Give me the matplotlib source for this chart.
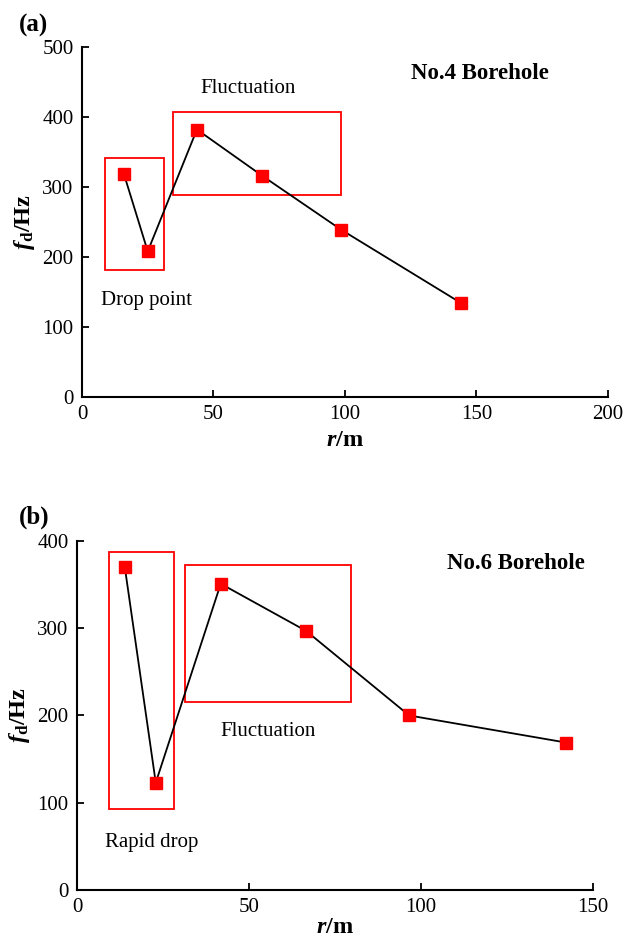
import matplotlib
matplotlib.use("Agg")
import matplotlib.pyplot as plt
from matplotlib.patches import Rectangle

plt.rcParams["font.family"] = ["Liberation Serif", "DejaVu Serif"]
plt.rcParams["mathtext.fontset"] = "custom"
plt.rcParams["mathtext.it"] = "Liberation Serif:italic:bold"
plt.rcParams["mathtext.rm"] = "Liberation Serif:bold"
plt.rcParams["mathtext.bf"] = "Liberation Serif:bold"

# (a) No.4 borehole
r4 = [15.9, 25.0, 43.7, 68.5, 98.5, 144.2]
f4 = [319, 208, 382, 316, 239, 134]
# (b) No.6 borehole
r6 = [13.9, 22.9, 41.8, 66.6, 96.6, 142.2]
f6 = [370, 123, 351, 297, 200, 169]

# annotation boxes: (x0, y0, x1, y1) in data units
boxes4 = [(8.9, 181, 31.3, 341), (34.5, 289, 98.6, 407)]
boxes6 = [(9.3, 93, 28.2, 387), (31.5, 215, 79.6, 373)]

red = "#ff0000"


def panel(ax, r, f, boxes, xmax, ymax, notes, title, title_pos, xpad):
    ax.plot(r, f, color="black", lw=1.3, marker="s", ms=8,
            mfc=red, mec=red, zorder=3)
    for x0, y0, x1, y1 in boxes:
        ax.add_patch(Rectangle((x0, y0), x1 - x0, y1 - y0, fill=False,
                               ec=red, lw=1.3, zorder=2))
    for x, y, s in notes:
        ax.text(x, y, s, ha="center", va="center", fontsize=15)
    ax.text(*title_pos, title, transform=ax.transAxes, fontsize=16.5,
            fontweight="bold", ha="center", va="center")
    ax.set_xlim(0, xmax)
    ax.set_ylim(0, ymax)
    ax.spines["top"].set_visible(False)
    ax.spines["right"].set_visible(False)
    ax.spines["left"].set_linewidth(1.5)
    ax.spines["bottom"].set_linewidth(1.5)
    ax.tick_params(direction="in", length=5, width=1.3, labelsize=15, pad=6)
    ax.set_xlabel(r"$r$/m", fontsize=17.5, fontweight="bold", labelpad=xpad)
    ax.set_ylabel(r"$f_{\mathrm{d}}$/Hz", fontsize=17.5, fontweight="bold",
                  labelpad=4)
    return ax


fig = plt.figure(figsize=(6.23, 9.42), dpi=100)
ax1 = fig.add_axes([0.1316, 0.5786, 0.8443, 0.3716])
ax2 = fig.add_axes([0.1236, 0.0552, 0.828, 0.3705])

panel(ax1, r4, f4, boxes4, 200, 500,
      [(63, 440, "Fluctuation"), (24.7, 138, "Drop point")],
      "No.4 Borehole", (0.757, 0.925), 4)
ax1.set_xticks([0, 50, 100, 150, 200])
ax1.set_yticks([0, 100, 200, 300, 400, 500])

panel(ax2, r6, f6, boxes6, 150, 400,
      [(55.6, 182, "Fluctuation"), (21.7, 55, "Rapid drop")],
      "No.6 Borehole", (0.85, 0.935), 0)
ax2.set_xticks([0, 50, 100, 150])
ax2.set_yticks([0, 100, 200, 300, 400])

fig.text(34 / 623, 1 - 25 / 942, "(a)", fontsize=18, fontweight="bold",
         ha="center", va="center")
fig.text(34 / 623, 1 - 517 / 942, "(b)", fontsize=18, fontweight="bold",
         ha="center", va="center")

fig.savefig("out.png", dpi=100)
